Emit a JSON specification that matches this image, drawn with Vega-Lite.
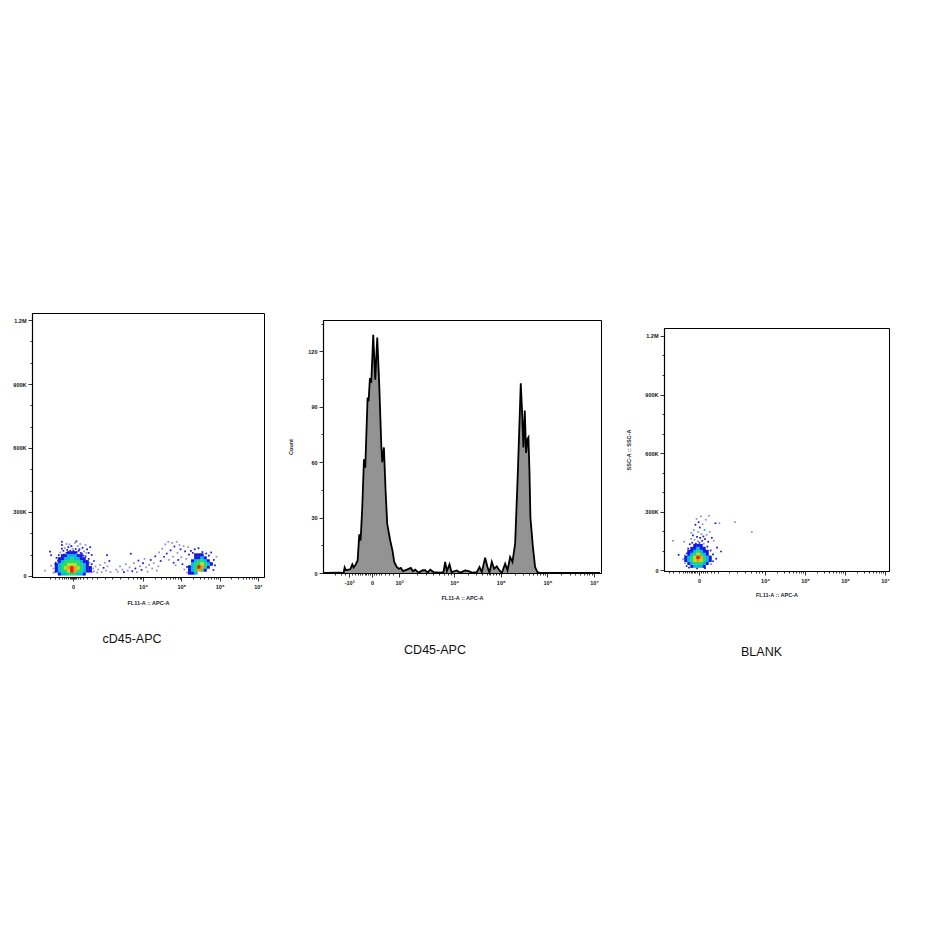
{"$schema":"https://vega.github.io/schema/vega-lite/v6.json","background":"white","padding":{"left":12,"top":312,"right":0,"bottom":0},"bounds":"flush","spacing":0,
"config":{"view":{"stroke":null},"font":"Liberation Sans","title":{"font":"Liberation Sans","fontWeight":"normal","fontSize":12.5,"color":"#111"},"axis":{"grid":false,"labelFont":"Liberation Sans","labelFontWeight":"bold","labelFontSize":5.5,"labelColor":"#111","labelFlush":false,"labelBound":false,"labelOverlap":false,"titleFont":"Liberation Sans","titleFontWeight":"bold","titleFontSize":5.5,"titleColor":"#223","domainColor":"black","tickColor":"black","tickWidth":0.8,"domainWidth":1.2}},
"datasets":{
"p1cells":[{"x":1.82,"y":10,"d":1},{"x":1.9,"y":10,"d":2},{"x":1.98,"y":10,"d":2},{"x":2.06,"y":10,"d":3},{"x":2.14,"y":10,"d":3},{"x":2.22,"y":10,"d":3},{"x":2.3,"y":10,"d":2},{"x":2.38,"y":10,"d":2},{"x":2.46,"y":10,"d":1},
{"x":1.74,"y":24,"d":1},{"x":1.82,"y":24,"d":2},{"x":1.9,"y":24,"d":3},{"x":1.98,"y":24,"d":3},{"x":2.06,"y":24,"d":4},{"x":2.14,"y":24,"d":6},{"x":2.22,"y":24,"d":5},{"x":2.3,"y":24,"d":3},{"x":2.38,"y":24,"d":3},{"x":2.46,"y":24,"d":2},{"x":2.54,"y":24,"d":1},{"x":2.62,"y":24,"d":1},
{"x":1.74,"y":38,"d":1},{"x":1.82,"y":38,"d":2},{"x":1.9,"y":38,"d":3},{"x":1.98,"y":38,"d":4},{"x":2.06,"y":38,"d":5},{"x":2.14,"y":38,"d":6},{"x":2.22,"y":38,"d":5},{"x":2.3,"y":38,"d":4},{"x":2.38,"y":38,"d":3},{"x":2.46,"y":38,"d":2},{"x":2.54,"y":38,"d":1},{"x":2.62,"y":38,"d":1},
{"x":1.74,"y":52,"d":1},{"x":1.82,"y":52,"d":2},{"x":1.9,"y":52,"d":3},{"x":1.98,"y":52,"d":3},{"x":2.06,"y":52,"d":4},{"x":2.14,"y":52,"d":4},{"x":2.22,"y":52,"d":4},{"x":2.3,"y":52,"d":3},{"x":2.38,"y":52,"d":3},{"x":2.46,"y":52,"d":2},{"x":2.54,"y":52,"d":1},
{"x":1.82,"y":66,"d":1},{"x":1.9,"y":66,"d":2},{"x":1.98,"y":66,"d":3},{"x":2.06,"y":66,"d":3},{"x":2.14,"y":66,"d":3},{"x":2.22,"y":66,"d":3},{"x":2.3,"y":66,"d":3},{"x":2.38,"y":66,"d":2},{"x":2.46,"y":66,"d":1},{"x":2.54,"y":66,"d":1},
{"x":1.82,"y":80,"d":1},{"x":1.9,"y":80,"d":1},{"x":1.98,"y":80,"d":2},{"x":2.06,"y":80,"d":2},{"x":2.14,"y":80,"d":3},{"x":2.22,"y":80,"d":2},{"x":2.3,"y":80,"d":2},{"x":2.38,"y":80,"d":1},{"x":2.46,"y":80,"d":1},
{"x":1.9,"y":94,"d":1},{"x":1.98,"y":94,"d":1},{"x":2.06,"y":94,"d":2},{"x":2.14,"y":94,"d":2},{"x":2.22,"y":94,"d":2},{"x":2.3,"y":94,"d":1},{"x":2.38,"y":94,"d":1},
{"x":2.06,"y":108,"d":1},{"x":2.14,"y":108,"d":1},{"x":2.22,"y":108,"d":1},
{"x":5.22,"y":14,"d":1},{"x":5.3,"y":14,"d":1},{"x":5.38,"y":14,"d":2},
{"x":5.22,"y":28,"d":1},{"x":5.3,"y":28,"d":2},{"x":5.38,"y":28,"d":3},{"x":5.46,"y":28,"d":5},{"x":5.54,"y":28,"d":3},{"x":5.62,"y":28,"d":1},
{"x":5.22,"y":42,"d":1},{"x":5.3,"y":42,"d":2},{"x":5.38,"y":42,"d":3},{"x":5.46,"y":42,"d":6},{"x":5.54,"y":42,"d":5},{"x":5.62,"y":42,"d":3},{"x":5.7,"y":42,"d":1},
{"x":5.3,"y":56,"d":2},{"x":5.38,"y":56,"d":3},{"x":5.46,"y":56,"d":3},{"x":5.54,"y":56,"d":4},{"x":5.62,"y":56,"d":3},{"x":5.7,"y":56,"d":2},{"x":5.78,"y":56,"d":1},
{"x":5.3,"y":70,"d":1},{"x":5.38,"y":70,"d":2},{"x":5.46,"y":70,"d":3},{"x":5.54,"y":70,"d":3},{"x":5.62,"y":70,"d":2},{"x":5.7,"y":70,"d":1},
{"x":5.38,"y":84,"d":1},{"x":5.46,"y":84,"d":1},{"x":5.54,"y":84,"d":2},{"x":5.62,"y":84,"d":1},
{"x":5.38,"y":98,"d":1},{"x":5.46,"y":98,"d":1},{"x":5.54,"y":98,"d":1}],
"p1points":[{"x":1.44,"y":25,"d":0},{"x":1.6,"y":48,"d":0},{"x":1.66,"y":35,"d":0},{"x":1.72,"y":62,"d":1},{"x":1.75,"y":28,"d":1},{"x":1.7,"y":18,"d":0},{"x":1.78,"y":72,"d":1},{"x":1.85,"y":80,"d":0},{"x":1.57,"y":114,"d":1},{"x":1.6,"y":97,"d":1},{"x":1.88,"y":160,"d":1},{"x":1.88,"y":145,"d":1},{"x":1.88,"y":128,"d":1},{"x":1.66,"y":15,"d":0},{"x":1.7,"y":55,"d":0},{"x":1.74,"y":85,"d":1},{"x":1.8,"y":98,"d":1},{"x":1.84,"y":110,"d":0},{"x":1.92,"y":118,"d":1},{"x":1.96,"y":130,"d":0},{"x":2.0,"y":150,"d":0},{"x":2.02,"y":122,"d":1},{"x":2.05,"y":135,"d":1},{"x":2.1,"y":118,"d":1},{"x":2.08,"y":148,"d":0},{"x":2.13,"y":140,"d":1},{"x":2.16,"y":128,"d":0},{"x":2.18,"y":118,"d":1},{"x":2.2,"y":110,"d":1},{"x":2.22,"y":155,"d":0},{"x":2.24,"y":126,"d":1},{"x":2.26,"y":162,"d":1},{"x":2.27,"y":112,"d":1},{"x":2.3,"y":140,"d":0},{"x":2.32,"y":118,"d":1},{"x":2.34,"y":125,"d":1},{"x":2.36,"y":150,"d":0},{"x":2.37,"y":108,"d":1},{"x":2.42,"y":132,"d":1},{"x":2.44,"y":96,"d":1},{"x":2.46,"y":115,"d":0},{"x":2.5,"y":145,"d":0},{"x":2.52,"y":108,"d":0},{"x":2.54,"y":125,"d":1},{"x":2.58,"y":108,"d":1},{"x":2.62,"y":135,"d":1},{"x":2.66,"y":98,"d":1},{"x":2.72,"y":70,"d":1},{"x":2.0,"y":108,"d":1},{"x":1.94,"y":100,"d":1},{"x":2.12,"y":100,"d":1},{"x":2.28,"y":100,"d":1},{"x":2.4,"y":105,"d":1},{"x":2.5,"y":92,"d":1},{"x":2.58,"y":80,"d":1},{"x":2.66,"y":55,"d":1},{"x":2.6,"y":62,"d":0},{"x":2.64,"y":40,"d":0},{"x":2.68,"y":18,"d":0},{"x":2.7,"y":35,"d":0},{"x":2.72,"y":22,"d":0},{"x":2.76,"y":45,"d":0},{"x":2.8,"y":15,"d":0},{"x":2.83,"y":30,"d":0},{"x":2.88,"y":52,"d":0},{"x":2.92,"y":18,"d":0},{"x":2.97,"y":38,"d":1},{"x":3.0,"y":62,"d":0},{"x":3.03,"y":25,"d":0},{"x":3.07,"y":45,"d":0},{"x":3.12,"y":70,"d":1},{"x":3.15,"y":18,"d":0},{"x":3.06,"y":98,"d":1},{"x":3.68,"y":104,"d":1},{"x":3.3,"y":30,"d":0},{"x":3.34,"y":20,"d":0},{"x":3.4,"y":45,"d":0},{"x":3.46,"y":30,"d":0},{"x":3.5,"y":18,"d":1},{"x":3.55,"y":55,"d":0},{"x":3.6,"y":25,"d":0},{"x":3.65,"y":40,"d":0},{"x":3.72,"y":22,"d":1},{"x":3.76,"y":60,"d":0},{"x":3.8,"y":35,"d":1},{"x":3.84,"y":18,"d":0},{"x":3.88,"y":72,"d":1},{"x":3.92,"y":45,"d":0},{"x":3.96,"y":28,"d":1},{"x":4.0,"y":60,"d":1},{"x":4.04,"y":80,"d":0},{"x":4.08,"y":40,"d":0},{"x":4.12,"y":20,"d":0},{"x":4.16,"y":52,"d":0},{"x":4.2,"y":75,"d":1},{"x":4.24,"y":35,"d":0},{"x":4.28,"y":60,"d":0},{"x":4.32,"y":92,"d":1},{"x":4.36,"y":25,"d":0},{"x":4.4,"y":45,"d":0},{"x":4.42,"y":110,"d":0},{"x":4.46,"y":70,"d":1},{"x":4.5,"y":128,"d":0},{"x":4.55,"y":90,"d":1},{"x":4.58,"y":148,"d":0},{"x":4.62,"y":105,"d":1},{"x":4.66,"y":160,"d":0},{"x":4.68,"y":75,"d":0},{"x":4.72,"y":120,"d":1},{"x":4.76,"y":155,"d":0},{"x":4.78,"y":90,"d":0},{"x":4.8,"y":62,"d":1},{"x":4.82,"y":138,"d":1},{"x":4.85,"y":50,"d":0},{"x":4.88,"y":160,"d":0},{"x":4.9,"y":108,"d":0},{"x":4.92,"y":75,"d":1},{"x":4.95,"y":145,"d":0},{"x":4.98,"y":125,"d":1},{"x":5.0,"y":88,"d":0},{"x":5.03,"y":55,"d":1},{"x":5.06,"y":140,"d":0},{"x":5.08,"y":30,"d":0},{"x":5.1,"y":115,"d":1},{"x":5.13,"y":80,"d":0},{"x":5.15,"y":42,"d":1},{"x":5.18,"y":135,"d":0},{"x":5.2,"y":18,"d":1},{"x":5.2,"y":100,"d":1},{"x":5.25,"y":118,"d":1},{"x":5.35,"y":125,"d":1},{"x":5.45,"y":130,"d":1},{"x":5.55,"y":112,"d":1},{"x":5.65,"y":105,"d":1},{"x":5.72,"y":95,"d":1},{"x":5.78,"y":110,"d":1},{"x":5.85,"y":75,"d":1},{"x":5.88,"y":50,"d":1},{"x":5.84,"y":28,"d":1},{"x":5.15,"y":15,"d":0},{"x":5.3,"y":108,"d":1},{"x":5.5,"y":100,"d":1},{"x":5.75,"y":60,"d":1},{"x":5.92,"y":90,"d":0}],
"p3cells":[{"x":2.175,"y":20,"d":1},{"x":2.25,"y":20,"d":2},{"x":2.325,"y":20,"d":2},{"x":2.4,"y":20,"d":2},{"x":2.475,"y":20,"d":1},
{"x":2.1,"y":35,"d":1},{"x":2.175,"y":35,"d":2},{"x":2.25,"y":35,"d":3},{"x":2.325,"y":35,"d":3},{"x":2.4,"y":35,"d":3},{"x":2.475,"y":35,"d":2},{"x":2.55,"y":35,"d":1},
{"x":2.025,"y":50,"d":1},{"x":2.1,"y":50,"d":2},{"x":2.175,"y":50,"d":3},{"x":2.25,"y":50,"d":4},{"x":2.325,"y":50,"d":5},{"x":2.4,"y":50,"d":4},{"x":2.475,"y":50,"d":3},{"x":2.55,"y":50,"d":2},{"x":2.625,"y":50,"d":1},
{"x":2.025,"y":65,"d":1},{"x":2.1,"y":65,"d":2},{"x":2.175,"y":65,"d":3},{"x":2.25,"y":65,"d":4},{"x":2.325,"y":65,"d":6},{"x":2.4,"y":65,"d":5},{"x":2.475,"y":65,"d":3},{"x":2.55,"y":65,"d":2},{"x":2.625,"y":65,"d":1},
{"x":2.1,"y":80,"d":1},{"x":2.175,"y":80,"d":2},{"x":2.25,"y":80,"d":3},{"x":2.325,"y":80,"d":4},{"x":2.4,"y":80,"d":3},{"x":2.475,"y":80,"d":2},{"x":2.55,"y":80,"d":1},
{"x":2.1,"y":95,"d":1},{"x":2.175,"y":95,"d":1},{"x":2.25,"y":95,"d":2},{"x":2.325,"y":95,"d":3},{"x":2.4,"y":95,"d":2},{"x":2.475,"y":95,"d":1},{"x":2.55,"y":95,"d":1},
{"x":2.175,"y":110,"d":1},{"x":2.25,"y":110,"d":1},{"x":2.325,"y":110,"d":2},{"x":2.4,"y":110,"d":1},{"x":2.475,"y":110,"d":1},
{"x":2.25,"y":125,"d":1},{"x":2.325,"y":125,"d":1},{"x":2.4,"y":125,"d":1}],
"p3points":[{"x":1.7,"y":150,"d":0},{"x":1.84,"y":78,"d":1},{"x":1.95,"y":55,"d":0},{"x":2.0,"y":35,"d":0},{"x":1.98,"y":145,"d":0},{"x":2.05,"y":85,"d":1},{"x":2.08,"y":110,"d":1},{"x":2.12,"y":132,"d":1},{"x":2.15,"y":160,"d":0},{"x":2.16,"y":190,"d":0},{"x":2.18,"y":140,"d":1},{"x":2.2,"y":178,"d":1},{"x":2.22,"y":205,"d":0},{"x":2.24,"y":155,"d":0},{"x":2.26,"y":232,"d":1},{"x":2.27,"y":135,"d":1},{"x":2.29,"y":262,"d":0},{"x":2.3,"y":170,"d":1},{"x":2.32,"y":148,"d":0},{"x":2.33,"y":195,"d":0},{"x":2.34,"y":245,"d":1},{"x":2.36,"y":140,"d":1},{"x":2.37,"y":218,"d":1},{"x":2.38,"y":165,"d":1},{"x":2.4,"y":275,"d":0},{"x":2.41,"y":185,"d":0},{"x":2.43,"y":150,"d":1},{"x":2.44,"y":235,"d":0},{"x":2.46,"y":172,"d":1},{"x":2.47,"y":135,"d":0},{"x":2.49,"y":205,"d":2},{"x":2.5,"y":158,"d":1},{"x":2.52,"y":258,"d":0},{"x":2.54,"y":180,"d":0},{"x":2.56,"y":120,"d":1},{"x":2.58,"y":145,"d":1},{"x":2.6,"y":278,"d":0},{"x":2.62,"y":195,"d":0},{"x":2.64,"y":100,"d":1},{"x":2.67,"y":165,"d":1},{"x":2.7,"y":80,"d":1},{"x":2.72,"y":150,"d":0},{"x":2.76,"y":240,"d":1},{"x":2.78,"y":58,"d":1},{"x":2.8,"y":115,"d":1},{"x":2.86,"y":240,"d":0},{"x":2.9,"y":95,"d":1},{"x":3.25,"y":246,"d":0},{"x":3.67,"y":195,"d":0},{"x":2.1,"y":12,"d":1},{"x":2.3,"y":8,"d":1},{"x":2.5,"y":10,"d":1},{"x":2.65,"y":30,"d":0},{"x":2.7,"y":45,"d":1},{"x":2.0,"y":75,"d":0},{"x":2.04,"y":20,"d":1}],
"hist":[{"x":1.204,"c":0},{"x":1.525,"c":0.2},{"x":1.632,"c":0},{"x":1.654,"c":3},{"x":1.682,"c":1.5},{"x":1.775,"c":2},{"x":1.818,"c":4.7},{"x":1.846,"c":3},{"x":1.889,"c":4.5},{"x":1.932,"c":6.8},{"x":1.968,"c":21},{"x":1.996,"c":17.6},{"x":2.032,"c":35.5},{"x":2.068,"c":61.6},{"x":2.096,"c":57},{"x":2.146,"c":95},{"x":2.167,"c":93},{"x":2.196,"c":105.6},{"x":2.225,"c":103},{"x":2.267,"c":129},{"x":2.31,"c":104.7},{"x":2.353,"c":127.5},{"x":2.396,"c":102},{"x":2.439,"c":69.7},{"x":2.46,"c":60},{"x":2.496,"c":68},{"x":2.532,"c":44.5},{"x":2.567,"c":26.6},{"x":2.631,"c":17.6},{"x":2.681,"c":12},{"x":2.717,"c":6},{"x":2.774,"c":3.2},{"x":2.817,"c":2.3},{"x":2.86,"c":2.8},{"x":2.903,"c":1},{"x":2.988,"c":1.8},{"x":3.074,"c":2.8},{"x":3.117,"c":1},{"x":3.167,"c":1.8},{"x":3.238,"c":0.2},{"x":3.331,"c":1.5},{"x":3.381,"c":1.5},{"x":3.431,"c":0.2},{"x":3.488,"c":1.8},{"x":3.559,"c":0.5},{"x":3.702,"c":0.2},{"x":3.774,"c":0.5},{"x":3.809,"c":6},{"x":3.845,"c":1},{"x":3.902,"c":4.7},{"x":3.945,"c":0.5},{"x":4.06,"c":1.4},{"x":4.131,"c":0.2},{"x":4.238,"c":1.4},{"x":4.31,"c":1},{"x":4.381,"c":0.2},{"x":4.488,"c":0.5},{"x":4.545,"c":3.2},{"x":4.595,"c":0.5},{"x":4.666,"c":8.3},{"x":4.716,"c":3.2},{"x":4.759,"c":0.2},{"x":4.809,"c":6},{"x":4.859,"c":2.3},{"x":4.916,"c":3.6},{"x":4.973,"c":1.4},{"x":5.023,"c":0},{"x":5.095,"c":5},{"x":5.145,"c":1.4},{"x":5.202,"c":8.6},{"x":5.252,"c":6},{"x":5.309,"c":15.9},{"x":5.366,"c":53.7},{"x":5.43,"c":102.7},{"x":5.459,"c":87},{"x":5.487,"c":68},{"x":5.516,"c":88},{"x":5.544,"c":65},{"x":5.573,"c":72.6},{"x":5.594,"c":73.5},{"x":5.616,"c":55.5},{"x":5.637,"c":30},{"x":5.687,"c":15},{"x":5.737,"c":3.2},{"x":5.787,"c":0.5},{"x":5.844,"c":0},{"x":7.129,"c":0}]
},
"hconcat":[
{"width":232,"height":264,"view":{"stroke":"black","strokeWidth":1},
"title":{"text":"cD45-APC","orient":"bottom","dx":-16,"offset":27},
"encoding":{
"x":{"field":"x","type":"quantitative","scale":{"domain":[1.1,7.16],"nice":false,"zero":false},"axis":{"title":"FL11-A :: APC-A","titleFontSize":5.5,"titlePadding":11,"labelPadding":3,"values":[1.57,1.7,1.8,1.88,1.94,2.0,2.05,2.09,2.12,2.15,2.17,2.19,2.22,2.26,2.3,2.36,2.44,2.54,2.66,2.8,3.0,3.2,3.4,3.6,3.75,3.85,3.92,3.96,4,4.301,4.477,4.602,4.699,4.778,4.845,4.903,4.954,5,5.301,5.477,5.602,5.699,5.778,5.845,5.903,5.954,6,6.301,6.477,6.602,6.699,6.778,6.845,6.903,6.954,7],"labelExpr":"datum.value==2.17?'0':datum.value==4?'10⁴':datum.value==5?'10⁵':datum.value==6?'10⁶':datum.value==7?'10⁷':''","tickSize":{"condition":{"test":"datum.value==2.17||datum.value==4||datum.value==5||datum.value==6||datum.value==7","value":4},"value":2}}},
"y":{"field":"y","type":"quantitative","scale":{"domain":[-5,1233],"nice":false,"zero":false},"axis":{"title":null,"labelPadding":2,"values":[0,100,200,300,400,500,600,700,800,900,1000,1100,1200],"labelExpr":"datum.value==0?'0':datum.value==1200?'1.2M':datum.value%300==0?datum.value+'K':''","tickSize":{"condition":{"test":"datum.value%300==0","value":4},"value":2}}},
"color":{"field":"d","type":"ordinal","legend":null,"scale":{"domain":[0,1,2,3,4,5,6],"range":["#9090c4","#1616e0","#00b8f0","#20d870","#b8e020","#ff9a10","#ee1818"]}},
"order":{"field":"d","type":"quantitative"}},
"layer":[
{"data":{"name":"p1points"},"mark":{"type":"square","size":3,"opacity":1}},
{"data":{"name":"p1cells"},"mark":{"type":"square","size":12,"opacity":1}}]},
{"width":59,"height":1,"data":{"values":[{"a":1}]},"mark":{"type":"rule","opacity":0},"encoding":{}},
{"bounds":"flush","spacing":0,"vconcat":[
{"width":1,"height":7,"data":{"values":[{"a":1}]},"mark":{"type":"rule","opacity":0},"encoding":{}},
{"width":278,"height":253,"view":{"stroke":"black","strokeWidth":1},"data":{"name":"hist"},
"title":{"text":"CD45-APC","orient":"bottom","dx":-27,"offset":43},
"mark":{"type":"area","color":"#939393","opacity":1,"line":{"color":"black","strokeWidth":1.8}},
"encoding":{
"x":{"field":"x","type":"quantitative","scale":{"domain":[1.19,7.15],"nice":false,"zero":false},"axis":{"title":"FL11-A :: APC-A","titlePadding":10,"labelPadding":3,"values":[1.45,1.58,1.66,1.75,1.82,1.88,1.93,1.98,2.03,2.08,2.12,2.16,2.2,2.24,2.28,2.33,2.38,2.44,2.52,2.6,2.7,2.82,3.2,3.4,3.55,3.68,3.78,3.86,3.93,4,4.301,4.477,4.602,4.699,4.778,4.845,4.903,4.954,5,5.301,5.477,5.602,5.699,5.778,5.845,5.903,5.954,6,6.301,6.477,6.602,6.699,6.778,6.845,6.903,6.954,7],"labelExpr":"datum.value==1.75?'-10³':datum.value==2.24?'0':datum.value==2.82?'10³':datum.value==4?'10⁴':datum.value==5?'10⁵':datum.value==6?'10⁶':datum.value==7?'10⁷':''","tickSize":{"condition":{"test":"datum.value==1.75||datum.value==2.24||datum.value==2.82||datum.value==4||datum.value==5||datum.value==6||datum.value==7","value":4},"value":2}}},
"y":{"field":"c","type":"quantitative","scale":{"domain":[0,137],"nice":false,"zero":false},"axis":{"title":"Count","titlePadding":14,"labelPadding":2,"values":[0,15,30,45,60,75,90,105,120,135],"labelExpr":"datum.value%30==0?datum.value:''","tickSize":{"condition":{"test":"datum.value%30==0","value":4},"value":2}}}}}
]},
{"width":341,"height":1,"data":{"values":[{"a":1}]},"mark":{"type":"rule","opacity":0},"encoding":{}},
{"bounds":"flush","spacing":0,"vconcat":[
{"width":1,"height":15,"data":{"values":[{"a":1}]},"mark":{"type":"rule","opacity":0},"encoding":{}},
{"width":225,"height":243,"view":{"stroke":"black","strokeWidth":1},
"title":{"text":"BLANK","orient":"bottom","dx":-15,"offset":48},
"encoding":{
"x":{"field":"x","type":"quantitative","scale":{"domain":[1.475,7.1],"nice":false,"zero":false},"axis":{"title":"FL11-A :: APC-A","titlePadding":9,"labelPadding":3,"values":[1.6,1.7,1.85,1.95,2.0,2.05,2.1,2.14,2.18,2.22,2.26,2.3,2.35,2.4,2.45,2.5,2.56,2.64,2.72,2.82,3.1,3.3,3.5,3.65,3.78,3.86,3.93,4,4.301,4.477,4.602,4.699,4.778,4.845,4.903,4.954,5,5.301,5.477,5.602,5.699,5.778,5.845,5.903,5.954,6,6.301,6.477,6.602,6.699,6.778,6.845,6.903,6.954,7],"labelExpr":"datum.value==2.35?'0':datum.value==4?'10⁴':datum.value==5?'10⁵':datum.value==6?'10⁶':datum.value==7?'10⁷':''","tickSize":{"condition":{"test":"datum.value==2.35||datum.value==4||datum.value==5||datum.value==6||datum.value==7","value":4},"value":2}}},
"y":{"field":"y","type":"quantitative","scale":{"domain":[-5,1241],"nice":false,"zero":false},"axis":{"title":"SSC-A :: SSC-A","titlePadding":13,"labelPadding":2,"values":[0,100,200,300,400,500,600,700,800,900,1000,1100,1200],"labelExpr":"datum.value==0?'0':datum.value==1200?'1.2M':datum.value%300==0?datum.value+'K':''","tickSize":{"condition":{"test":"datum.value%300==0","value":4},"value":2}}},
"color":{"field":"d","type":"ordinal","legend":null,"scale":{"domain":[0,1,2,3,4,5,6],"range":["#9090c4","#1616e0","#00b8f0","#20d870","#b8e020","#ff9a10","#ee1818"]}},
"order":{"field":"d","type":"quantitative"}},
"layer":[
{"data":{"name":"p3points"},"mark":{"type":"square","size":3,"opacity":1}},
{"data":{"name":"p3cells"},"mark":{"type":"square","size":12,"opacity":1}}]}
]}
]}
